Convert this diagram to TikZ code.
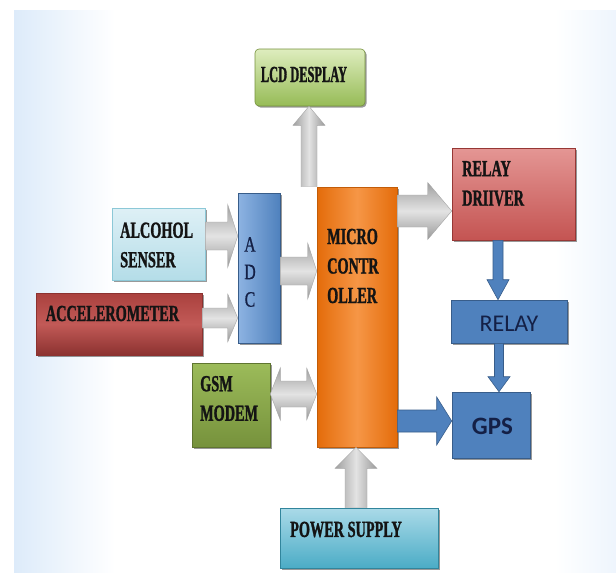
\documentclass[tikz,border=0pt]{standalone}
\usepackage{fontspec}
\usetikzlibrary{calc,shadows}
\newfontfamily\boxfont{Liberation Serif}[FakeStretch=0.62,FakeBold=1.2]
\newfontfamily\lcdfont{Liberation Serif}[FakeStretch=0.54,FakeBold=1.2]
\newfontfamily\adcfont{Liberation Serif}[FakeStretch=0.72,FakeBold=0.8]
\newfontfamily\calfont{Carlito}
\definecolor{bgL}{RGB}{221,235,250}
\definecolor{bgR}{RGB}{238,245,253}
\definecolor{lcdT}{RGB}{222,237,190}
\definecolor{lcdB}{RGB}{150,187,86}
\definecolor{lcdD}{RGB}{118,146,60}
\definecolor{orD}{RGB}{228,108,10}
\definecolor{orL}{RGB}{246,150,70}
\definecolor{rdT}{RGB}{228,150,148}
\definecolor{rdB}{RGB}{196,84,82}
\definecolor{rdD}{RGB}{150,55,53}
\definecolor{blF}{RGB}{79,129,189}
\definecolor{blL}{RGB}{141,179,226}
\definecolor{blD}{RGB}{56,93,138}
\definecolor{alT}{RGB}{222,240,246}
\definecolor{alB}{RGB}{180,221,232}
\definecolor{alD}{RGB}{140,200,215}
\definecolor{acT}{RGB}{170,65,62}
\definecolor{acM}{RGB}{194,90,87}
\definecolor{acB}{RGB}{140,50,48}
\definecolor{gsT}{RGB}{156,187,90}
\definecolor{gsB}{RGB}{118,146,60}
\definecolor{gsD}{RGB}{95,117,48}
\definecolor{pwT}{RGB}{170,218,232}
\definecolor{pwB}{RGB}{75,172,198}
\definecolor{pwD}{RGB}{49,133,156}
\definecolor{txtC}{RGB}{20,20,20}
\definecolor{navy}{RGB}{20,32,70}
\newcommand\harrow[6]{%
  \path[#1] let \p1=(#2), \p2=(#3), \n1={sign(\x2-\x1)} in
  (\x1,\y1-#4) -- (\x2-\n1*#6,\y1-#4) -- (\x2-\n1*#6,\y1-#5) -- (\x2,\y1)
  -- (\x2-\n1*#6,\y1+#5) -- (\x2-\n1*#6,\y1+#4) -- (\x1,\y1+#4) -- cycle;}
\newcommand\hdarrow[6]{%
  \path[#1] let \p1=(#2), \p2=(#3), \n1={sign(\x2-\x1)} in
  (\x1,\y1) -- (\x1+\n1*#6,\y1-#5) -- (\x1+\n1*#6,\y1-#4) -- (\x2-\n1*#6,\y1-#4)
  -- (\x2-\n1*#6,\y1-#5) -- (\x2,\y1) -- (\x2-\n1*#6,\y1+#5) -- (\x2-\n1*#6,\y1+#4)
  -- (\x1+\n1*#6,\y1+#4) -- (\x1+\n1*#6,\y1+#5) -- cycle;}
\newcommand\varrow[6]{%
  \path[#1] let \p1=(#2), \p2=(#3), \n1={sign(\y2-\y1)} in
  (\x1-#4,\y1) -- (\x1-#4,\y2-\n1*#6) -- (\x1-#5,\y2-\n1*#6) -- (\x1,\y2)
  -- (\x1+#5,\y2-\n1*#6) -- (\x1+#4,\y2-\n1*#6) -- (\x1+#4,\y1) -- cycle;}
\tikzset{
  box/.style={rectangle, inner sep=0pt, line width=0.6pt,
    drop shadow={shadow xshift=1.5pt, shadow yshift=-1.5pt, opacity=0.4, fill=black}},
  txt/.style={inner sep=0pt, text=txtC, align=left,
    font=\boxfont\bfseries\fontsize{23}{29.5}\selectfont},
  grayh/.style={draw=gray!70, line width=0.4pt, top color=gray!75, bottom color=gray!80, middle color=gray!22},
  grayv/.style={draw=gray!70, line width=0.4pt, left color=gray!75, right color=gray!80, middle color=gray!22},
  bluearr/.style={fill=blF, draw=blD, line width=0.6pt}
}
\begin{document}
\begin{tikzpicture}[x=1pt,y=-1pt]
\useasboundingbox (0,0) rectangle (616,573);
\fill[white] (0,0) rectangle (616,573);
\shade[left color=bgL, right color=white] (14,10) rectangle (115,573);
\shade[left color=white, right color=bgR] (555,10) rectangle (616,573);
% boxes
\node[box, minimum width=110pt, minimum height=57pt, rounded corners=4pt,
  top color=lcdT, bottom color=lcdB, draw=lcdD] (lcd) at (310,77.5) {};
\node[box, minimum width=80pt, minimum height=260pt,
  left color=orD, right color=orD, middle color=orL, draw=orD!85!black] (micro) at (357,317) {};
\node[box, minimum width=123pt, minimum height=92pt,
  top color=rdT, bottom color=rdB, draw=rdD] (rdrv) at (513.5,194) {};
\node[box, minimum width=116pt, minimum height=43pt, fill=blF, draw=blD] (relay) at (509,321.5) {};
\node[box, minimum width=78pt, minimum height=66pt, fill=blF, draw=blD] (gps) at (491,425) {};
\node[box, minimum width=93pt, minimum height=72pt,
  top color=alT, bottom color=alB, draw=alD] (alc) at (158.5,244) {};
\node[box, minimum width=166pt, minimum height=62pt,
  top color=acT, bottom color=acB, middle color=acM, draw=acB] (acc) at (119,324) {};
\node[box, minimum width=42pt, minimum height=150pt,
  left color=blL, right color=blF, draw=blD] (adc) at (259,268) {};
\node[box, minimum width=78pt, minimum height=84pt,
  top color=gsT, bottom color=gsB, draw=gsD] (gsm) at (231,405) {};
\node[box, minimum width=158pt, minimum height=60pt,
  top color=pwT, bottom color=pwB, draw=pwD] (pwr) at (359,538) {};
% texts
\node[txt, font=\lcdfont\bfseries\fontsize{23}{29.5}\selectfont] (lcdtxt) at (304,74.5) {LCD DESPLAY};
\node[txt, anchor=west] (alctxt) at (120,245) {ALCOHOL\\SENSER};
\node[txt] (acctxt) at (112.5,313.5) {ACCELEROMETER};
\node[inner sep=0pt, align=center, text=navy, font=\adcfont\fontsize{22}{27.5}\selectfont] (adctxt) at (250,272) {A\\D\\C};
\node[txt, anchor=west] (microtxt) at (327,266) {MICRO\\CONTR\\OLLER};
\node[txt, anchor=west] (rdrvtxt) at (462,183.5) {RELAY\\DRIIVER};
\node[inner sep=0pt, text=navy, font=\calfont\fontsize{24}{28}\selectfont] (relaytxt) at (509,324) {RELAY};
\node[inner sep=0pt, text=navy, font=\calfont\bfseries\fontsize{25}{30}\selectfont] (gpstxt) at (492.5,426) {GPS};
\node[txt, anchor=west] (gsmtxt) at (200,398.5) {GSM\\MODEM};
\node[txt, anchor=west] (pwrtxt) at (290,529.5) {POWER SUPPLY};
% connectors
\harrow{grayh}{alc.east |- 0,236}{adc.west |- 0,236}{14pt}{31.5pt}{10pt}
\harrow{grayh}{acc.east |- 0,318}{adc.west |- 0,318}{10pt}{24pt}{10pt}
\harrow{grayh}{adc.east |- 0,271}{micro.west |- 0,271}{14pt}{28pt}{9pt}
\hdarrow{grayh}{gsm.east |- 0,394}{micro.west |- 0,394}{13pt}{26pt}{10pt}
\varrow{grayv}{micro.north -| 309,0}{lcd.south -| 309,0}{8pt}{16pt}{19pt}
\harrow{grayh}{micro.east |- 0,211}{rdrv.west |- 0,211}{16pt}{28.5pt}{24pt}
\varrow{bluearr}{rdrv.south -| 498,0}{relay.north -| 498,0}{5pt}{11pt}{20pt}
\varrow{bluearr}{relay.south -| 499,0}{gps.north -| 499,0}{4.5pt}{11pt}{15pt}
\harrow{bluearr}{micro.east |- 0,421}{gps.west |- 0,421}{11pt}{24pt}{15pt}
\varrow{grayv}{pwr.north -| 356,0}{micro.south -| 356,0}{11pt}{21pt}{21pt}
\end{tikzpicture}
\end{document}
